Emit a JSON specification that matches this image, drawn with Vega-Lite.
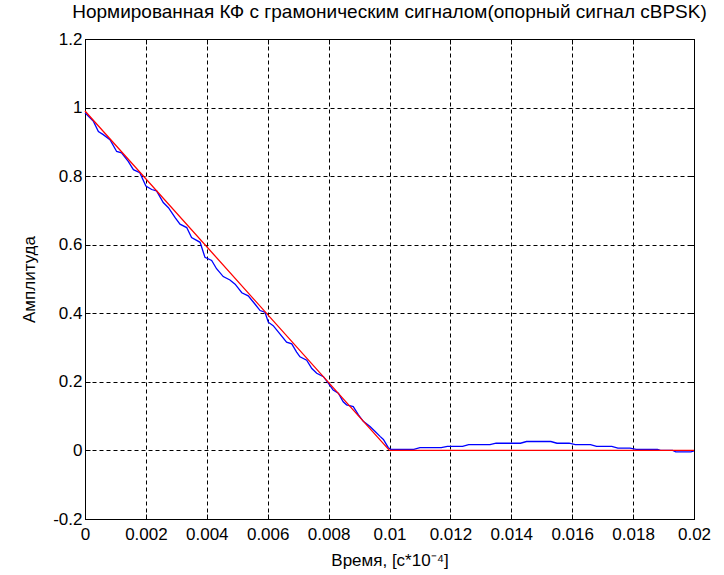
{
  "$schema": "https://vega.github.io/schema/vega-lite/v6.json",
  "width": 609,
  "height": 480,
  "autosize": "none",
  "padding": {"left": 85, "top": 39, "right": 30, "bottom": 56},
  "background": "white",
  "title": {
    "text": "Нормированная КФ с грамоническим сигналом(опорный сигнал cBPSK)",
    "font": "Liberation Sans",
    "fontSize": 19,
    "fontWeight": "normal",
    "color": "black",
    "anchor": "middle",
    "frame": "group",
    "baseline": "alphabetic",
    "offset": -7
  },
  "datasets": {
    "kf": [
      {"t": 0.0, "a": 0.985},
      {"t": 0.00027, "a": 0.961},
      {"t": 0.00044, "a": 0.93},
      {"t": 0.0006, "a": 0.921},
      {"t": 0.00082, "a": 0.906},
      {"t": 0.00104, "a": 0.872},
      {"t": 0.0012, "a": 0.868},
      {"t": 0.00142, "a": 0.843},
      {"t": 0.00159, "a": 0.819},
      {"t": 0.0018, "a": 0.81},
      {"t": 0.002, "a": 0.771},
      {"t": 0.00219, "a": 0.761},
      {"t": 0.00235, "a": 0.757},
      {"t": 0.00257, "a": 0.723},
      {"t": 0.00274, "a": 0.708},
      {"t": 0.00296, "a": 0.679},
      {"t": 0.00312, "a": 0.66},
      {"t": 0.00334, "a": 0.65},
      {"t": 0.0035, "a": 0.621},
      {"t": 0.00378, "a": 0.607},
      {"t": 0.00394, "a": 0.563},
      {"t": 0.00416, "a": 0.554},
      {"t": 0.00432, "a": 0.53},
      {"t": 0.00454, "a": 0.507},
      {"t": 0.00476, "a": 0.497},
      {"t": 0.00493, "a": 0.485},
      {"t": 0.00515, "a": 0.46},
      {"t": 0.00536, "a": 0.451},
      {"t": 0.00558, "a": 0.427},
      {"t": 0.00575, "a": 0.408},
      {"t": 0.00591, "a": 0.403},
      {"t": 0.00602, "a": 0.374},
      {"t": 0.00618, "a": 0.364},
      {"t": 0.0064, "a": 0.34},
      {"t": 0.00662, "a": 0.316},
      {"t": 0.00679, "a": 0.311},
      {"t": 0.00695, "a": 0.287},
      {"t": 0.00706, "a": 0.273},
      {"t": 0.00728, "a": 0.263},
      {"t": 0.00745, "a": 0.239},
      {"t": 0.00761, "a": 0.225},
      {"t": 0.00783, "a": 0.215},
      {"t": 0.00799, "a": 0.196},
      {"t": 0.00815, "a": 0.176},
      {"t": 0.00832, "a": 0.167},
      {"t": 0.00848, "a": 0.142},
      {"t": 0.00859, "a": 0.133},
      {"t": 0.00881, "a": 0.128},
      {"t": 0.00898, "a": 0.104},
      {"t": 0.00914, "a": 0.085},
      {"t": 0.00936, "a": 0.07},
      {"t": 0.00952, "a": 0.056},
      {"t": 0.00969, "a": 0.041},
      {"t": 0.0098, "a": 0.032},
      {"t": 0.00996, "a": 0.008},
      {"t": 0.01005, "a": 0.003},
      {"t": 0.0108, "a": 0.003},
      {"t": 0.011, "a": 0.008},
      {"t": 0.0117, "a": 0.008},
      {"t": 0.0119, "a": 0.012},
      {"t": 0.0124, "a": 0.012},
      {"t": 0.0126, "a": 0.017},
      {"t": 0.0133, "a": 0.017},
      {"t": 0.0135, "a": 0.021},
      {"t": 0.0143, "a": 0.021},
      {"t": 0.0145, "a": 0.026},
      {"t": 0.0153, "a": 0.026},
      {"t": 0.0155, "a": 0.021},
      {"t": 0.0159, "a": 0.021},
      {"t": 0.0161, "a": 0.017},
      {"t": 0.0166, "a": 0.017},
      {"t": 0.0168, "a": 0.012},
      {"t": 0.0173, "a": 0.012},
      {"t": 0.0175, "a": 0.007},
      {"t": 0.0179, "a": 0.007},
      {"t": 0.0181, "a": 0.003},
      {"t": 0.0188, "a": 0.003},
      {"t": 0.0189, "a": 0.0},
      {"t": 0.0193, "a": 0.0},
      {"t": 0.0194, "a": -0.004},
      {"t": 0.0199, "a": -0.004},
      {"t": 0.02, "a": -0.001}
    ],
    "ref": [
      {"t": 0.0, "a": 0.99},
      {"t": 0.01, "a": 0.0},
      {"t": 0.02, "a": 0.0}
    ]
  },
  "config": {
    "view": {"stroke": "black", "strokeWidth": 1},
    "axis": {
      "labelFont": "Liberation Sans",
      "labelFontSize": 17,
      "labelColor": "black",
      "titleFont": "Liberation Sans",
      "titleFontSize": 17,
      "titleFontWeight": "normal",
      "titleColor": "black",
      "domainColor": "black",
      "tickColor": "black",
      "tickSize": -5
    }
  },
  "layer": [
    {
      "data": {"name": "kf"},
      "mark": {"type": "line", "color": "#0000ff", "strokeWidth": 1.3},
      "encoding": {
        "x": {
          "field": "t",
          "type": "quantitative",
          "scale": {"domain": [0, 0.02], "nice": false, "zero": false},
          "axis": {
            "orient": "bottom",
            "values": [0, 0.002, 0.004, 0.006, 0.008, 0.01, 0.012, 0.014, 0.016, 0.018, 0.02],
            "labelExpr": "'' + datum.value",
            "labelPadding": 12,
            "labelFlush": false,
            "labelOverlap": false,
            "grid": true,
            "gridColor": "black",
            "gridDash": [4, 3],
            "gridOpacity": 1,
            "title": "Время, [c*10⁻⁴]",
            "titleX": 304.5,
            "titleY": 46,
            "titleBaseline": "alphabetic"
          }
        },
        "y": {
          "field": "a",
          "type": "quantitative",
          "scale": {"domain": [-0.2, 1.2], "nice": false, "zero": false},
          "axis": {
            "orient": "left",
            "values": [-0.2, 0, 0.2, 0.4, 0.6, 0.8, 1, 1.2],
            "labelExpr": "'' + datum.value",
            "labelPadding": 8,
            "labelFlush": false,
            "labelOverlap": false,
            "grid": true,
            "gridColor": "black",
            "gridDash": [4, 3],
            "gridOpacity": 1,
            "title": "Амплитуда",
            "titleX": -51,
            "titleY": 240,
            "titleBaseline": "alphabetic"
          }
        }
      }
    },
    {
      "data": {"name": "ref"},
      "mark": {"type": "line", "color": "#ff0000", "strokeWidth": 1.3},
      "encoding": {
        "x": {
          "field": "t",
          "type": "quantitative",
          "axis": {
            "orient": "top",
            "values": [0, 0.002, 0.004, 0.006, 0.008, 0.01, 0.012, 0.014, 0.016, 0.018, 0.02],
            "labels": false,
            "grid": false,
            "title": null
          }
        },
        "y": {
          "field": "a",
          "type": "quantitative",
          "axis": {
            "orient": "right",
            "values": [-0.2, 0, 0.2, 0.4, 0.6, 0.8, 1, 1.2],
            "labels": false,
            "grid": false,
            "title": null
          }
        }
      }
    }
  ],
  "resolve": {"axis": {"x": "independent", "y": "independent"}}
}
